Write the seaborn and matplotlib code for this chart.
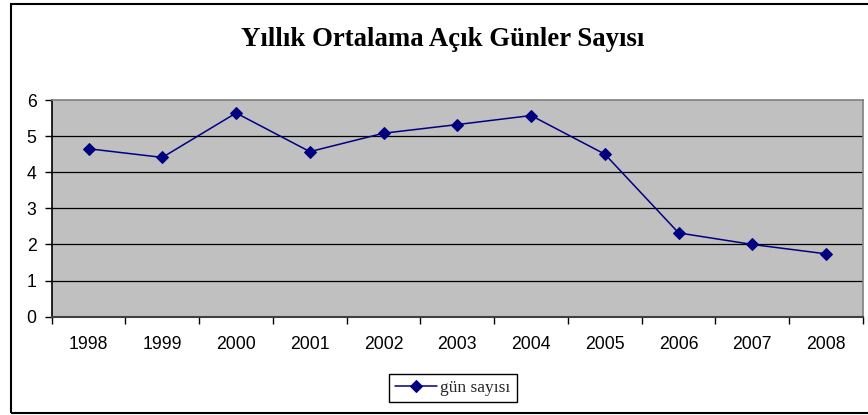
import matplotlib
matplotlib.use("Agg")
import matplotlib.pyplot as plt
import seaborn as sns
import pandas as pd
from matplotlib.patches import Rectangle
from matplotlib.ticker import FixedLocator

years = ["1998", "1999", "2000", "2001", "2002", "2003", "2004", "2005", "2006", "2007", "2008"]
values = [4.65, 4.41, 5.64, 4.57, 5.08, 5.32, 5.57, 4.50, 2.32, 2.00, 1.74]
series_name = "gün sayısı"
title = "Yıllık Ortalama Açık Günler Sayısı"
yticks = [0, 1, 2, 3, 4, 5, 6]

df = pd.DataFrame({"year": years, "value": values, "series": series_name})

sns.set_theme(style="white")
plt.rcParams["font.family"] = ["Liberation Sans", "DejaVu Sans"]

fig = plt.figure(figsize=(8.68, 4.15), dpi=100)
ax = fig.add_axes([51.7 / 868, 1 - 316.7 / 415, (863 - 51.7) / 868, (316.7 - 100) / 415])
ax.set_facecolor("#C0C0C0")

sns.lineplot(data=df, x="year", y="value", hue="series", palette=["#000080"],
             marker="D", markersize=6.5, markeredgecolor="#000080",
             linewidth=1.1, ax=ax, zorder=5)

ax.set_xlim(-0.5, len(years) - 0.5)
ax.set_ylim(0, 6)
ax.set_yticks(yticks)
ax.set_yticklabels([str(t) for t in yticks])
for t in yticks[1:-1]:
    ax.axhline(t, color="black", linewidth=0.9, zorder=1)

ax.set_xticks(range(len(years)))
ax.set_xticklabels(years)
ax.xaxis.set_minor_locator(FixedLocator([i - 0.5 for i in range(len(years) + 1)]))
ax.tick_params(axis="x", which="major", length=0, pad=14, labelsize=12.7, colors="black")
ax.tick_params(axis="x", which="minor", length=5, width=1, color="black", direction="out", bottom=True)
ax.tick_params(axis="y", which="major", length=5, width=1, color="black", direction="out", left=True,
               labelsize=12.7, pad=6, colors="black")

ax.set_xlabel("")
ax.set_ylabel("")
for side in ["top", "right"]:
    ax.spines[side].set_color("#808080")
    ax.spines[side].set_linewidth(1.2)
for side in ["left", "bottom"]:
    ax.spines[side].set_color("black")
    ax.spines[side].set_linewidth(1.2)
ax.spines["bottom"].set_color("#404040")
ax.spines["bottom"].set_linewidth(1.5)

fig.text(443 / 868, 1 - 39 / 415, title, ha="center", va="center",
         fontsize=19.3, fontweight="bold", family=["Liberation Serif", "DejaVu Serif"], color="black")

handles, labels = ax.get_legend_handles_labels()
if ax.get_legend():
    ax.get_legend().remove()
leg = fig.legend(handles, labels, loc="center", bbox_to_anchor=(453 / 868, 1 - 388 / 415),
                 frameon=True, fancybox=False, edgecolor="black", framealpha=1,
                 prop={"family": ["Liberation Serif", "DejaVu Serif"], "size": 12.5},
                 handlelength=2.4, borderpad=0.35, handletextpad=0.2)
leg.get_frame().set_linewidth(1.0)

fig.patches.append(Rectangle((10.5 / 868, 1 - 412.5 / 415), 1.0, (412.5 - 4.5) / 415,
                             transform=fig.transFigure, fill=False, edgecolor="black",
                             linewidth=1.5, zorder=0))

fig.savefig("out.png", dpi=100, facecolor="white")
